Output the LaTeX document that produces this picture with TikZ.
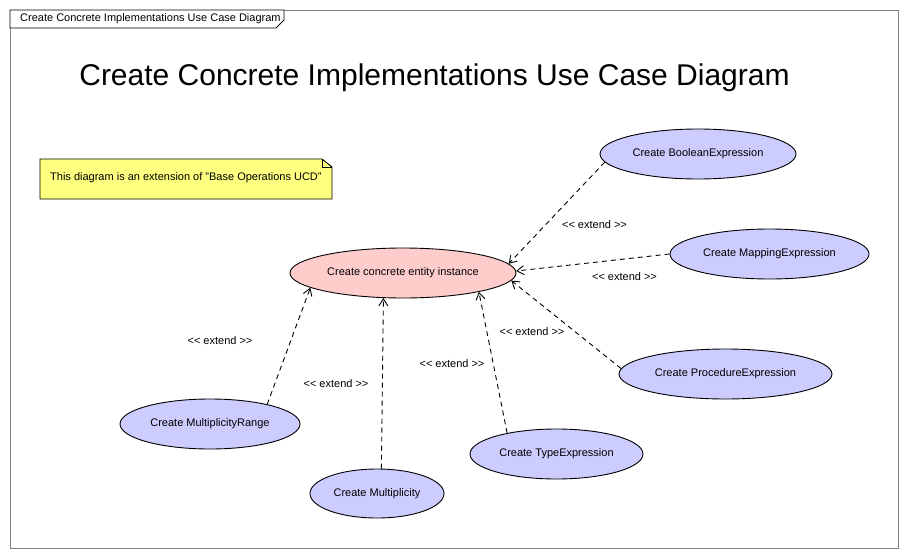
\documentclass[tikz,border=0pt]{standalone}
\usepackage{fontspec}
\setmainfont{Liberation Sans}
\usepackage{tikz}
\usetikzlibrary{shapes.geometric}
\usetikzlibrary{arrows.meta}
\definecolor{casepink}{RGB}{255,204,204}
\definecolor{caseblue}{RGB}{204,204,255}
\definecolor{noteyellow}{RGB}{255,255,128}
\definecolor{framegray}{RGB}{128,128,128}
\newcommand{\extendlbl}{<\kern0pt< extend >\kern0pt>}

\begin{document}
\begin{tikzpicture}[x=1pt,y=-1pt,
		usecase/.style={ellipse,draw,line width=0.9pt,fill=caseblue,inner sep=0pt,minimum height=50pt,font=\fontsize{11}{13}\selectfont},
		extend/.style={line width=0.9pt,dash pattern=on 5pt off 4pt,-{Straight Barb[length=7pt,width=9pt]}},
		extlabel/.style={font=\fontsize{11}{13}\selectfont}]
	\useasboundingbox (0,0) rectangle (909,559);
	\draw[framegray,line width=0.9pt] (10,10) rectangle (898,548);
	\draw[fill=white,line width=0.9pt] (10,10) -- (284,10) -- (284,20) -- (276,28) -- (10,28) -- cycle;
	\node[anchor=west,inner sep=0pt,font=\fontsize{11}{13}\selectfont] (framelabel) at (20,19) {Create Concrete Implementations Use Case Diagram};
	\node[anchor=base,inner sep=0pt,font=\fontsize{30}{36}\selectfont] (title) at (434.5,86) {Create Concrete Implementations Use Case Diagram};

	\draw[fill=noteyellow,line width=0.9pt] (40,159) -- (322,159) -- (332,167) -- (332,199) -- (40,199) -- cycle;
	\draw[line width=0.9pt] (322,159) |- (332,167);
	\node[anchor=west,inner sep=0pt,font=\fontsize{11}{13}\selectfont] (note) at (50,178) {This diagram is an extension of "Base Operations UCD"};

	\node[usecase,fill=casepink,minimum width=226pt] (instance) at (403,273) {Create concrete entity instance};
	\node[usecase,minimum width=196pt] (boolexpr) at (698,154) {Create BooleanExpression};
	\node[usecase,minimum width=199pt] (mapexpr) at (769.5,254) {Create MappingExpression};
	\node[usecase,minimum width=213pt] (procexpr) at (725.5,374) {Create ProcedureExpression};
	\node[usecase,minimum width=173pt] (typeexpr) at (556.5,454) {Create TypeExpression};
	\node[usecase,minimum width=134pt,minimum height=49pt] (mult) at (377,493.5) {Create Multiplicity};
	\node[usecase,minimum width=180pt] (multrange) at (210,424) {Create MultiplicityRange};

	\draw[extend] (boolexpr.-175) -- (instance.5);
	\draw[extend] (mapexpr.west) -- (instance.1);
	\draw[extend] (procexpr.177) -- (instance.-4);
	\draw[extend] (typeexpr.157) -- (instance.-14);
	\draw[extend] (mult.80) -- (instance.-128);
	\draw[extend] (multrange.19) -- (instance.-171);

	\node[extlabel] (boollabel) at (594.5,225) {\extendlbl};
	\node[extlabel] (maplabel) at (624.5,277) {\extendlbl};
	\node[extlabel] (proclabel) at (532,332) {\extendlbl};
	\node[extlabel] (typelabel) at (452,364) {\extendlbl};
	\node[extlabel] (multlabel) at (336,384) {\extendlbl};
	\node[extlabel] (rangelabel) at (220,341) {\extendlbl};
\end{tikzpicture}
\end{document}
